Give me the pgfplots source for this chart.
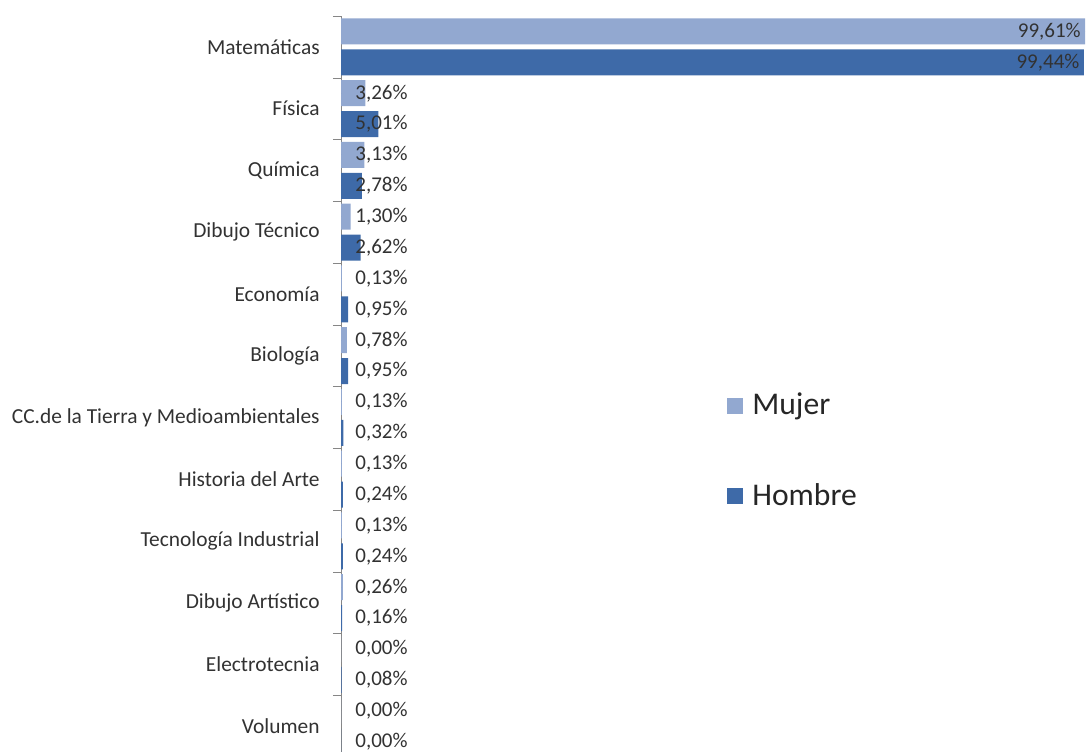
\documentclass[border=0pt]{standalone}
\usepackage{fontspec}
\setmainfont{Carlito}
\usepackage{pgfplots}
\pgfplotsset{compat=1.18}
\definecolor{mujer}{RGB}{146,168,208}
\definecolor{hombre}{RGB}{62,106,168}
\definecolor{txt}{RGB}{50,50,50}
\definecolor{axl}{RGB}{134,134,134}
\begin{document}
\begin{tikzpicture}
\useasboundingbox (0,0) rectangle (546pt,375.5pt);
\begin{axis}[
  at={(170.5pt,-3pt)}, anchor=south west,
  scale only axis, width=373.5pt, height=370.5pt,
  xmin=0, xmax=100, ymin=-0.5, ymax=11.5, y dir=reverse,
  axis x line=none, axis y line*=left, axis line style={-, draw=axl},
  /pgf/number format/assume math mode=true,
  ytick={0,...,11},
  yticklabels={Matemáticas,Física,Química,Dibujo Técnico,Economía,Biología,CC.de la Tierra y Medioambientales,Historia del Arte,Tecnología Industrial,Dibujo Artístico,Electrotecnia,Volumen},
  tick align=outside,
  major tick length=0pt,
  extra y ticks={-0.5,0.5,...,11.5}, extra y tick labels={},
  extra y tick style={major tick length=4pt, tick align=outside, tick style={draw=axl}},
  yticklabel style={font=\fontsize{10.7}{12}\selectfont, text=txt, inner sep=0pt, xshift=-10.5pt},
  legend style={at={(0.5167,0.413)}, anchor=west, draw=none, fill=none, inner sep=0pt,
    font=\fontsize{15.8}{18}\selectfont, row sep=29pt, text=black!85,
    nodes={inner xsep=4.5pt}},
  legend cell align=left,
  legend image code/.code={\fill[#1] (0pt,-4pt) rectangle (8pt,4pt);},
  clip=false,
]
\addplot[xbar, bar width=0.42, bar shift=0pt, fill=mujer, draw=none] coordinates {
  (99.61,-0.25) (3.26,0.75) (3.13,1.75) (1.30,2.75) (0.13,3.75) (0.78,4.75)
  (0.13,5.75) (0.13,6.75) (0.13,7.75) (0.26,8.75) (0.00,9.75) (0.00,10.75)};
\addlegendentry{Mujer}
\addplot[xbar, bar width=0.42, bar shift=0pt, fill=hombre, draw=none] coordinates {
  (99.44,0.25) (5.01,1.25) (2.78,2.25) (2.62,3.25) (0.95,4.25) (0.95,5.25)
  (0.32,6.25) (0.24,7.25) (0.24,8.25) (0.16,9.25) (0.08,10.25) (0.00,11.25)};
\addlegendentry{Hombre}
% labels inside bar end (Matematicas)
\addplot[forget plot, only marks, mark=*, mark size=0pt, mark options={draw=none,fill=none},
  point meta=explicit, nodes near coords={\pgfmathprintnumber[fixed,fixed zerofill,precision=2,use comma,assume math mode=true]{\pgfplotspointmeta}\%},
  nodes near coords style={anchor=east, xshift=-2pt, font=\fontsize{10.5}{12}\selectfont, text=txt, inner sep=0pt}]
  coordinates {(99.61,-0.25)[99.61] (99.44,0.25)[99.44]};
% labels near the axis (others)
\addplot[forget plot, only marks, mark=*, mark size=0pt, mark options={draw=none,fill=none},
  point meta=explicit, nodes near coords={\pgfmathprintnumber[fixed,fixed zerofill,precision=2,use comma,assume math mode=true]{\pgfplotspointmeta}\%},
  nodes near coords style={anchor=west, xshift=7pt, font=\fontsize{10.5}{12}\selectfont, text=txt, inner sep=0pt}]
  coordinates {
  (0,0.75)[3.26] (0,1.75)[3.13] (0,2.75)[1.30] (0,3.75)[0.13] (0,4.75)[0.78]
  (0,5.75)[0.13] (0,6.75)[0.13] (0,7.75)[0.13] (0,8.75)[0.26] (0,9.75)[0.00] (0,10.75)[0.00]
  (0,1.25)[5.01] (0,2.25)[2.78] (0,3.25)[2.62] (0,4.25)[0.95] (0,5.25)[0.95]
  (0,6.25)[0.32] (0,7.25)[0.24] (0,8.25)[0.24] (0,9.25)[0.16] (0,10.25)[0.08] (0,11.25)[0.00]};
\end{axis}
\end{tikzpicture}
\end{document}
